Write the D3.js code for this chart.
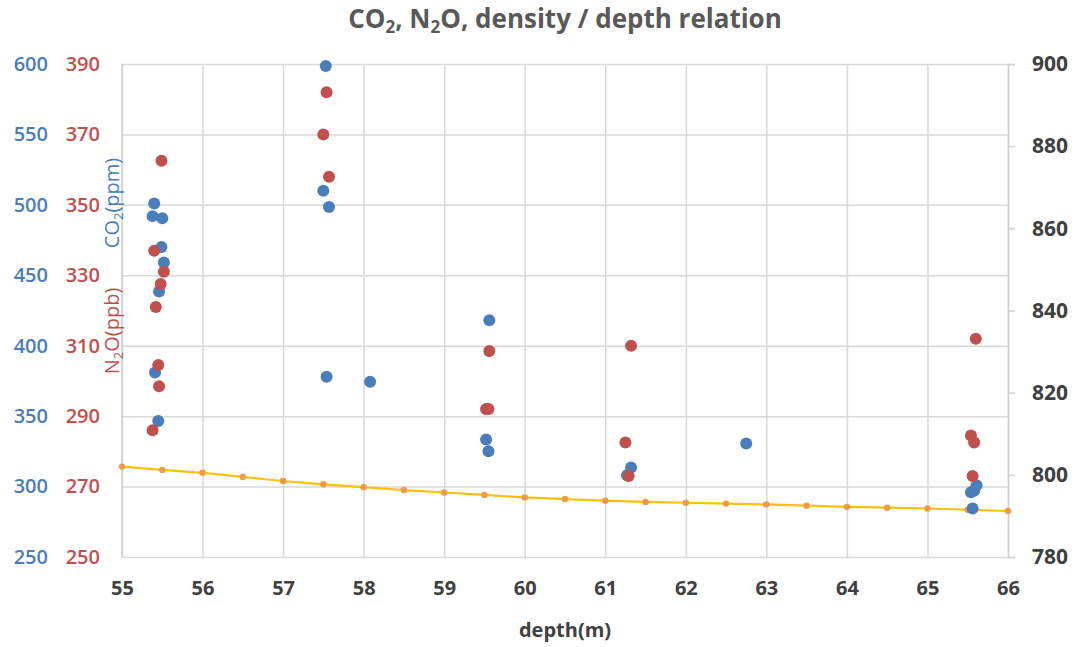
<!DOCTYPE html>
<html>
<head>
<meta charset="utf-8">
<script src="https://cdn.jsdelivr.net/npm/d3@7"></script>
<style>
  body { margin: 0; background: #fff; }
  text { font-family: "Open Sans", "Noto Sans", sans-serif; }
</style>
</head>
<body>
<div class="chart"></div>
<script>
var WIDTH = 1079;
var HEIGHT = 647;
var LEFT = 122, RIGHT = 1008, TOP = 64, BOTTOM = 557;

var BLUE = "#4a7ebb";
var RED = "#c0504d";
var GREY = "#404040";

// CO2 (ppm) readings: depth, value
var co2Depth = [55.40, 55.38, 55.50, 55.49, 55.52, 55.46, 55.41, 55.45,
                57.53, 57.50, 57.57, 57.54, 58.08,
                59.56, 59.52, 59.55,
                61.32, 61.27, 62.75,
                65.61, 65.58, 65.54, 65.56];
var co2Value = [501, 492, 490.5, 470, 459, 438.5, 381, 346.5,
                598.5, 510, 498.5, 378, 374.5,
                418, 333.5, 325,
                313.5, 308, 330.5,
                301, 297, 296, 284.5];

// N2O (ppb) readings: depth, value
var n2oDepth = [55.49, 55.40, 55.52, 55.48, 55.42, 55.45, 55.46, 55.38,
                57.54, 57.50, 57.57,
                59.56, 59.52, 59.55,
                61.32, 61.25, 61.29,
                65.60, 65.54, 65.58, 65.56];
var n2oValue = [362.5, 337, 331, 327.5, 321, 304.5, 298.5, 286,
                382, 370, 358,
                308.5, 292, 292,
                310, 282.5, 273,
                312, 284.5, 282.5, 273];

// density every 0.5 m
var densDepth = [55, 55.5, 56, 56.5, 57, 57.5, 58, 58.5, 59, 59.5, 60, 60.5,
                 61, 61.5, 62, 62.5, 63, 63.5, 64, 64.5, 65, 65.5, 66];
var densValue = [802, 801.2, 800.5, 799.5, 798.5, 797.7, 797, 796.3, 795.7, 795.1, 794.5, 794.1,
                 793.7, 793.4, 793.2, 793, 792.8, 792.5, 792.2, 792, 791.8, 791.5, 791.2];

var xTicks = [55, 56, 57, 58, 59, 60, 61, 62, 63, 64, 65, 66];
var co2Ticks = [250, 300, 350, 400, 450, 500, 550, 600];
var n2oTicks = [250, 270, 290, 310, 330, 350, 370, 390];
var densTicks = [780, 800, 820, 840, 860, 880, 900];

var x = d3.scaleLinear().domain([55, 66]).range([LEFT, RIGHT]);
var yCO2 = d3.scaleLinear().domain([250, 600]).range([BOTTOM, TOP]);
var yN2O = d3.scaleLinear().domain([250, 390]).range([BOTTOM, TOP]);
var yDens = d3.scaleLinear().domain([780, 900]).range([BOTTOM, TOP]);

var svg = d3.select(".chart")
    .append("svg")
    .attr("width", WIDTH)
    .attr("height", HEIGHT);

// gridlines
svg.append("g")
    .attr("transform", "translate(0," + BOTTOM + ")")
    .call(d3.axisBottom(x).tickValues(xTicks).tickSize(-(BOTTOM - TOP)).tickFormat(""))
    .call(function(g) {
        g.select(".domain").remove();
        g.selectAll("line").attr("stroke", "#d9d9d9").attr("stroke-width", 1.5);
    });

svg.append("g")
    .attr("transform", "translate(" + LEFT + ",0)")
    .call(d3.axisLeft(yCO2).tickValues(co2Ticks).tickSize(-(RIGHT - LEFT)).tickFormat(""))
    .call(function(g) {
        g.select(".domain").remove();
        g.selectAll("line").attr("stroke", "#d9d9d9").attr("stroke-width", 1.5);
    });

// left axis line
svg.append("line")
    .attr("x1", LEFT).attr("x2", LEFT)
    .attr("y1", TOP).attr("y2", BOTTOM)
    .attr("stroke", "#d0d0d0").attr("stroke-width", 1.5);

// right axis
var rAxis = svg.append("g")
    .attr("transform", "translate(" + RIGHT + ",0)")
    .call(d3.axisRight(yDens).tickValues(densTicks).tickSize(7).tickPadding(17));
rAxis.select(".domain").attr("stroke", "#d0d0d0").attr("stroke-width", 1.5);
rAxis.selectAll(".tick line").attr("stroke", "#d0d0d0").attr("stroke-width", 1.5);
rAxis.selectAll("text")
    .attr("fill", GREY)
    .style("font-size", "21px")
    .style("font-weight", "bold");

// left tick labels, CO2 and N2O
var co2Axis = svg.append("g")
    .attr("transform", "translate(" + LEFT + ",0)")
    .call(d3.axisLeft(yCO2).tickValues(co2Ticks).tickSize(0).tickPadding(74));
co2Axis.select(".domain").remove();
co2Axis.selectAll("text")
    .attr("fill", BLUE)
    .style("font-size", "20px")
    .style("font-weight", "600");

var n2oAxis = svg.append("g")
    .attr("transform", "translate(" + LEFT + ",0)")
    .call(d3.axisLeft(yN2O).tickValues(n2oTicks).tickSize(0).tickPadding(22));
n2oAxis.select(".domain").remove();
n2oAxis.selectAll("text")
    .attr("fill", RED)
    .style("font-size", "20px")
    .style("font-weight", "600");

// x tick labels
var xAxis = svg.append("g")
    .attr("transform", "translate(0," + BOTTOM + ")")
    .call(d3.axisBottom(x).tickValues(xTicks).tickSize(0).tickPadding(24));
xAxis.select(".domain").remove();
xAxis.selectAll("text")
    .attr("fill", GREY)
    .style("font-size", "20px")
    .style("font-weight", "bold");

// density line
var line = d3.line()
    .x(function(d, i) { return x(densDepth[i]); })
    .y(function(d, i) { return yDens(densValue[i]); });

svg.append("path")
    .datum(densValue)
    .attr("d", line)
    .attr("fill", "none")
    .attr("stroke", "#ffc000")
    .attr("stroke-width", 2.2);

svg.selectAll(".dens")
    .data(densValue)
    .enter().append("circle")
    .attr("class", "dens")
    .attr("cx", function(d, i) { return x(densDepth[i]); })
    .attr("cy", function(d) { return yDens(d); })
    .attr("r", 3.2)
    .attr("fill", "#ed9b4a");

// CO2 points
svg.selectAll(".co2")
    .data(co2Value)
    .enter().append("circle")
    .attr("class", "co2")
    .attr("cx", function(d, i) { return x(co2Depth[i]); })
    .attr("cy", function(d) { return yCO2(d); })
    .attr("r", 6)
    .attr("fill", BLUE);

// N2O points
svg.selectAll(".n2o")
    .data(n2oValue)
    .enter().append("circle")
    .attr("class", "n2o")
    .attr("cx", function(d, i) { return x(n2oDepth[i]); })
    .attr("cy", function(d) { return yN2O(d); })
    .attr("r", 6)
    .attr("fill", RED);

// title
var title = svg.append("text")
    .attr("x", 565)
    .attr("y", 28)
    .attr("text-anchor", "middle")
    .attr("fill", "#595959")
    .style("font-size", "26px")
    .style("font-weight", "bold");
title.append("tspan").text("CO");
title.append("tspan").text("2").attr("font-size", "17px").attr("dy", 5);
title.append("tspan").text(", N").attr("dy", -5);
title.append("tspan").text("2").attr("font-size", "17px").attr("dy", 5);
title.append("tspan").text("O, density / depth relation").attr("dy", -5);

// axis titles
svg.append("text")
    .attr("x", 565)
    .attr("y", 637)
    .attr("text-anchor", "middle")
    .attr("fill", GREY)
    .style("font-size", "20px")
    .style("font-weight", "bold")
    .text("depth(m)");

function rotLabel(cx, cy, color, a) {
    var t = svg.append("text")
        .attr("transform", "translate(" + cx + "," + cy + ") rotate(-90)")
        .attr("text-anchor", "middle")
        .attr("fill", color)
        .style("font-size", "20px");
    t.append("tspan").text(a[0]);
    t.append("tspan").text("2").attr("font-size", "13px").attr("dy", 4);
    t.append("tspan").text(a[1]).attr("dy", -4);
}
rotLabel(119, 331, RED, ["N", "O(ppb)"]);
rotLabel(119, 203, BLUE, ["CO", "(ppm)"]);
</script>
</body>
</html>
